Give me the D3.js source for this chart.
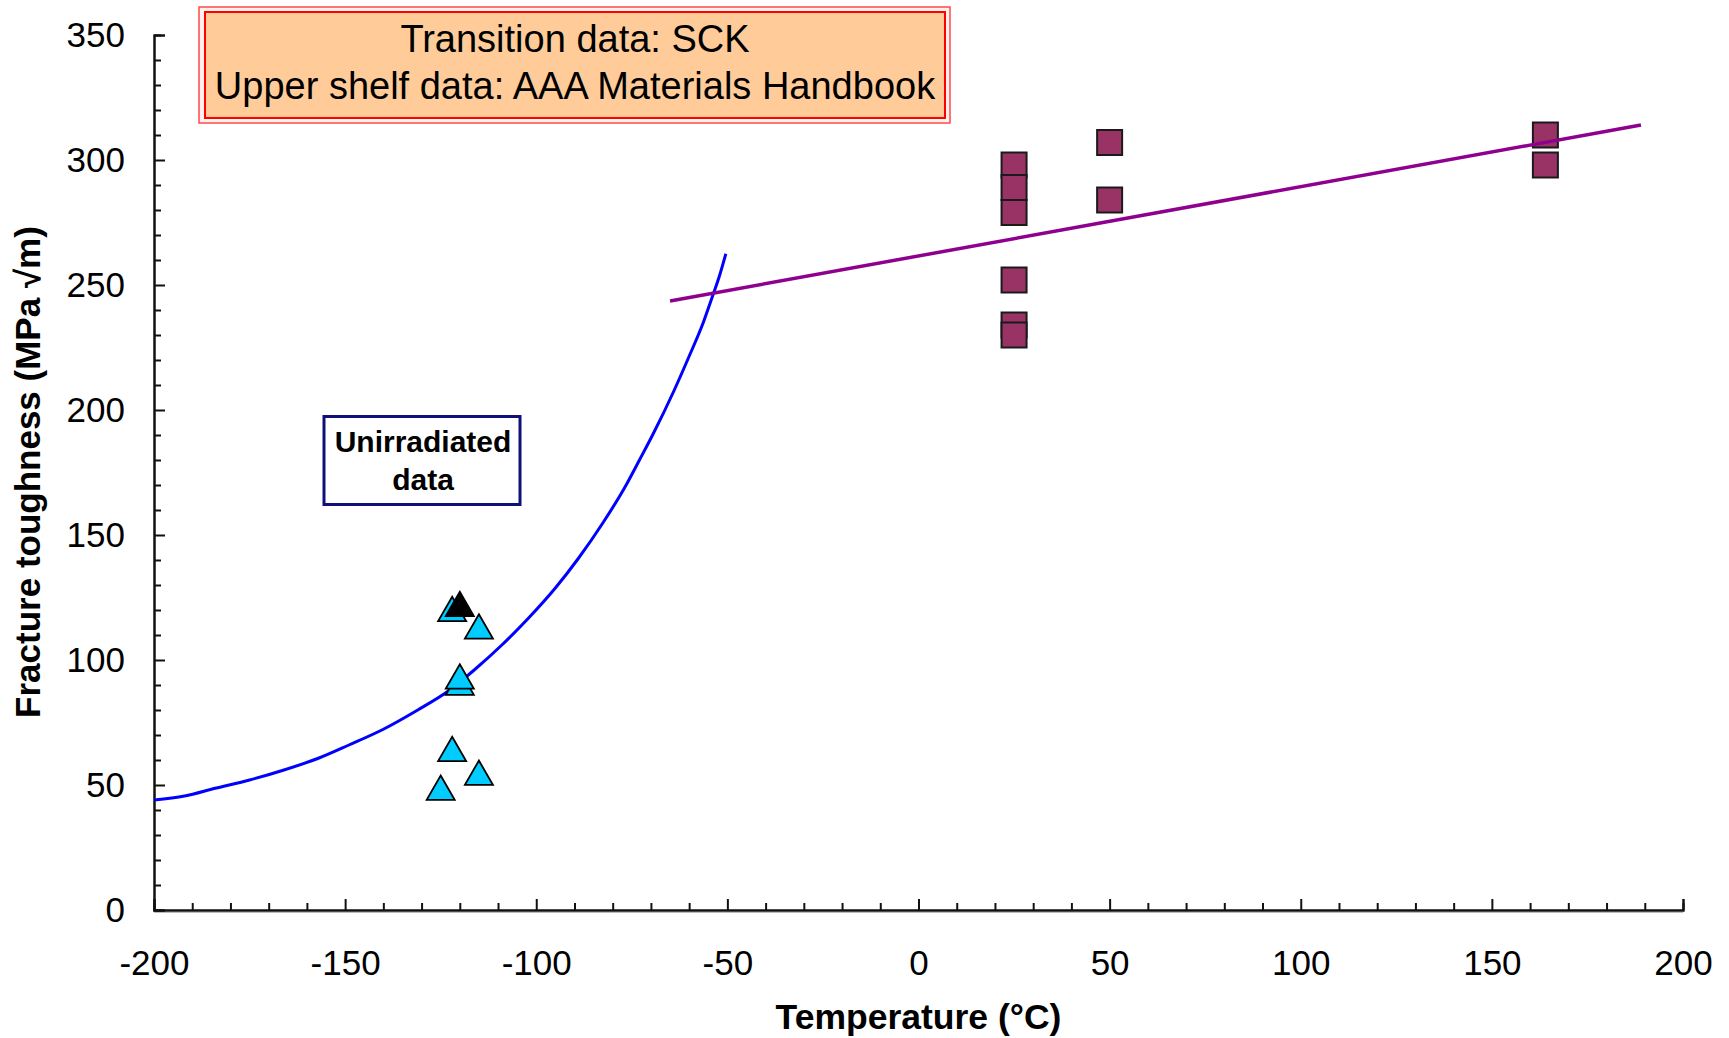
<!DOCTYPE html>
<html>
<head>
<meta charset="utf-8">
<script src="https://cdn.jsdelivr.net/npm/d3@7"></script>
<style>
  html, body { margin: 0; padding: 0; background: #fff; }
  svg { display: block; }
  text { font-family: "Liberation Sans", Arial, sans-serif; fill: #000; }
</style>
</head>
<body>
<svg id="chart" width="1729" height="1038"></svg>
<script>
// Axis ranges and tick values
const xDomain = [-200, 200];
const yDomain = [0, 350];
const xMajorTicks = [-200, -150, -100, -50, 0, 50, 100, 150, 200];
const yMajorTicks = [0, 50, 100, 150, 200, 250, 300, 350];

// Transition-region fit curve: [temperature °C, K_Jc MPa√m]
const curveT = [-200, -192, -184, -175, -166, -157, -149, -140, -131, -123, -116, -109, -102, -95, -89, -82.5, -77, -73, -69.4, -64, -60, -56.3, -54, -52, -50.4];
const curveK = [44, 45.6, 48.7, 52, 56, 60.7, 66, 72.3, 80, 87.6, 96.3, 106, 116.8, 128.8, 140.6, 155, 168.6, 180, 190.5, 207.6, 221.5, 235, 245, 254, 262.5];

// Unirradiated transition data (cyan) and the highlighted point (black)
const triT = [-122, -115, -120, -120, -122, -115, -125];
const triK = [120, 113, 90.5, 93, 64, 54.5, 48.5];
const blackT = [-120];
const blackK = [122];

// Upper shelf data
const sqT = [25, 25, 25, 25, 25, 25, 50, 50, 164, 164];
const sqK = [298, 289, 279, 252, 234, 230, 307, 284, 310, 298];

// Upper shelf trend line end points
const shelfT = [-65, 189];
const shelfK = [243.6, 314];

const noteLines = ["Transition data: SCK", "Upper shelf data: AAA Materials Handbook"];
const boxLines = ["Unirradiated", "data"];

const svg = d3.select("#chart");
const plotLeft = 154, plotRight = 1683, plotTop = 35, plotBottom = 910;

const x = d3.scaleLinear().domain(xDomain).range([plotLeft, plotRight]);
const y = d3.scaleLinear().domain(yDomain).range([plotBottom, plotTop]);

// plain hyphen-minus labels
const fmt = d => String(d);

// ---- Axes ----
const xMinor = d3.range(xDomain[0], xDomain[1] + 1, 10).filter(v => v % 50 !== 0);
const yMinor = d3.range(yDomain[0], yDomain[1] + 1, 10).filter(v => v % 50 !== 0);

function styleAxis(g) {
  g.select(".domain").attr("stroke", "#111").attr("stroke-width", 2);
  g.selectAll(".tick line").attr("stroke", "#111").attr("stroke-width", 2);
}

svg.append("g").attr("transform", `translate(0,${plotBottom})`)
  .call(d3.axisBottom(x).tickValues(xMinor).tickSize(-7).tickFormat(""))
  .call(styleAxis);
const gx = svg.append("g").attr("transform", `translate(0,${plotBottom})`)
  .call(d3.axisBottom(x).tickValues(xMajorTicks).tickSize(-11).tickPadding(40).tickFormat(fmt))
  .call(styleAxis);
gx.selectAll("text").attr("font-size", 35).attr("font-family", "Liberation Sans, Arial, sans-serif");

svg.append("g").attr("transform", `translate(${plotLeft},0)`)
  .call(d3.axisLeft(y).tickValues(yMinor).tickSize(-7).tickFormat(""))
  .call(styleAxis);
const gy = svg.append("g").attr("transform", `translate(${plotLeft},0)`)
  .call(d3.axisLeft(y).tickValues(yMajorTicks).tickSize(-11).tickPadding(29).tickFormat(fmt))
  .call(styleAxis);
gy.selectAll("text").attr("font-size", 35).attr("font-family", "Liberation Sans, Arial, sans-serif");

// faint shadow under the horizontal axis
svg.append("line").attr("x1", plotLeft).attr("x2", plotRight).attr("y1", plotBottom + 2.5).attr("y2", plotBottom + 2.5)
  .attr("stroke", "#bbb").attr("stroke-width", 1);

// Axis titles
svg.append("text").attr("x", (plotLeft + plotRight) / 2).attr("y", 1029)
  .attr("text-anchor", "middle").attr("font-size", 35.5).attr("font-weight", "bold")
  .text("Temperature (°C)");
svg.append("text").attr("transform", "translate(40,472) rotate(-90)")
  .attr("text-anchor", "middle").attr("font-size", 35).attr("font-weight", "bold")
  .text("Fracture toughness (MPa √m)");

// ---- Marks ----
const curvePts = curveT.map((t, i) => [t, curveK[i]]);
svg.append("path").datum(curvePts)
  .attr("fill", "none").attr("stroke", "#0000FF").attr("stroke-width", 3)
  .attr("d", d3.line().x(d => x(d[0])).y(d => y(d[1])).curve(d3.curveMonotoneX));

const triSym = d3.symbol().type(d3.symbolTriangle).size(340);
function drawTriangles(ts, ks, fill) {
  svg.append("g").selectAll("path").data(ts.map((t, i) => [t, ks[i]])).join("path")
    .attr("transform", d => `translate(${x(d[0])},${y(d[1]) + 3})`)
    .attr("d", triSym)
    .attr("fill", fill).attr("stroke", "#000").attr("stroke-width", 1.8).attr("stroke-linejoin", "miter");
}
drawTriangles(triT, triK, "#00CCFF");
drawTriangles(blackT, blackK, "#000");

const sq = 25;
svg.append("g").selectAll("rect").data(sqT.map((t, i) => [t, sqK[i]])).join("rect")
  .attr("x", d => x(d[0]) - sq / 2).attr("y", d => y(d[1]) - sq / 2)
  .attr("width", sq).attr("height", sq)
  .attr("fill", "#993366").attr("stroke", "#1a1a1a").attr("stroke-width", 2);

const shelfPts = shelfT.map((t, i) => [t, shelfK[i]]);
svg.append("path").datum(shelfPts)
  .attr("fill", "none").attr("stroke", "#8E008E").attr("stroke-width", 3.5)
  .attr("d", d3.line().x(d => x(d[0])).y(d => y(d[1])));

// ---- Source note (double red border) ----
svg.append("rect").attr("x", 199).attr("y", 7).attr("width", 751).attr("height", 116)
  .attr("fill", "#FFF2EE").attr("stroke", "#FF4A4A").attr("stroke-width", 1.5);
svg.append("rect").attr("x", 205).attr("y", 12).attr("width", 740).attr("height", 106)
  .attr("fill", "#FFCC99").attr("stroke", "#FF0000").attr("stroke-width", 2);
svg.append("g").selectAll("text").data(noteLines).join("text")
  .attr("x", 575).attr("y", (d, i) => 52 + i * 47)
  .attr("text-anchor", "middle").attr("font-size", 38)
  .text(d => d);

// ---- Unirradiated label box ----
svg.append("rect").attr("x", 324).attr("y", 416.5).attr("width", 196).attr("height", 88)
  .attr("fill", "#fff").attr("stroke", "#10107A").attr("stroke-width", 3);
svg.append("g").selectAll("text").data(boxLines).join("text")
  .attr("x", 423).attr("y", (d, i) => 452 + i * 38)
  .attr("text-anchor", "middle").attr("font-size", 30).attr("font-weight", "bold")
  .text(d => d);
</script>
</body>
</html>
